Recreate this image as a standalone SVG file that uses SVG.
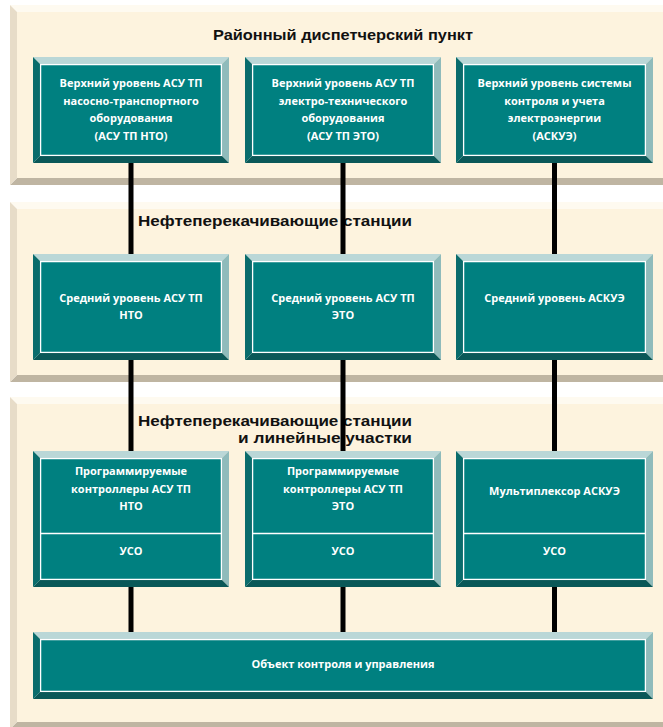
<svg xmlns="http://www.w3.org/2000/svg" width="663" height="727" viewBox="0 0 663 727">
<style>
.pf{fill:#fdf3de}
.pt{fill:#fefaf0}
.pl{fill:#e7dcc8}
.pb{fill:#bfb5a2}
.bt{fill:#bad7d7}
.br{fill:#8fbbbb}
.bb{fill:#0a5858}
.bl{fill:#0a6c6c}
.bf{fill:#008080;stroke:#ffffff;stroke-width:1.3}
.dv{stroke:#ffffff;stroke-width:1.3}
.h{font-family:"Liberation Sans","Open Sans",sans-serif;font-weight:bold;fill:#111111}
.t{font-family:"Open Sans","DejaVu Sans",sans-serif;font-weight:bold;font-size:11px;fill:#ffffff;text-anchor:middle}
.c{stroke:#000000;stroke-width:5;fill:none}
</style>
<rect width="663" height="727" fill="#ffffff"/>

<g id="panel-rdp">
<polygon class="pt" points="10,5 680,5 673,12 17,12"/>
<polygon class="pb" points="10,185 680,185 673,178 17,178"/>
<polygon class="pl" points="10,5 17,12 17,178 10,185"/>
<rect class="pf" x="17" y="12" width="660" height="166"/>
<text class="h" x="343" y="40" font-size="14.5" text-anchor="middle" textLength="260" lengthAdjust="spacingAndGlyphs">Районный диспетчерский пункт</text>
</g>

<g id="panel-nps">
<polygon class="pt" points="10,202 680,202 673,209 17,209"/>
<polygon class="pb" points="10,382 680,382 673,375 17,375"/>
<polygon class="pl" points="10,202 17,209 17,375 10,382"/>
<rect class="pf" x="17" y="209" width="660" height="166"/>
<text class="h" x="138" y="226" font-size="15.5" textLength="274" lengthAdjust="spacingAndGlyphs">Нефтеперекачивающие станции</text>
</g>

<g id="panel-nps-lu">
<polygon class="pt" points="10,397 680,397 673,404 17,404"/>
<polygon class="pb" points="10,729 680,729 673,722 17,722"/>
<polygon class="pl" points="10,397 17,404 17,722 10,729"/>
<rect class="pf" x="17" y="404" width="660" height="318"/>
<text class="h" x="138" y="425.5" font-size="15.5" textLength="274" lengthAdjust="spacingAndGlyphs">Нефтеперекачивающие станции</text>
<text class="h" x="412" y="443" font-size="15.5" text-anchor="end" textLength="174" lengthAdjust="spacingAndGlyphs">и линейные участки</text>
</g>

<g id="node-top-nto">
<polygon class="bt" points="33,57 229,57 222,64 40,64"/>
<polygon class="br" points="229,57 229,163 222,156 222,64"/>
<polygon class="bb" points="33,163 229,163 222,156 40,156"/>
<polygon class="bl" points="33,57 40,64 40,156 33,163"/>
<rect class="bf" x="40.6" y="64.6" width="180.8" height="90.8"/>
<text class="t" x="131" y="87">Верхний уровень АСУ ТП</text>
<text class="t" x="131" y="104.5">насосно-транспортного</text>
<text class="t" x="131" y="122">оборудования</text>
<text class="t" x="131" y="139.5">(АСУ ТП НТО)</text>
</g>

<g id="node-top-eto">
<polygon class="bt" points="245,57 441,57 434,64 252,64"/>
<polygon class="br" points="441,57 441,163 434,156 434,64"/>
<polygon class="bb" points="245,163 441,163 434,156 252,156"/>
<polygon class="bl" points="245,57 252,64 252,156 245,163"/>
<rect class="bf" x="252.6" y="64.6" width="180.8" height="90.8"/>
<text class="t" x="343" y="87">Верхний уровень АСУ ТП</text>
<text class="t" x="343" y="104.5">электро-технического</text>
<text class="t" x="343" y="122">оборудования</text>
<text class="t" x="343" y="139.5">(АСУ ТП ЭТО)</text>
</g>

<g id="node-top-askue">
<polygon class="bt" points="456,57 653,57 646,64 463,64"/>
<polygon class="br" points="653,57 653,163 646,156 646,64"/>
<polygon class="bb" points="456,163 653,163 646,156 463,156"/>
<polygon class="bl" points="456,57 463,64 463,156 456,163"/>
<rect class="bf" x="463.6" y="64.6" width="181.8" height="90.8"/>
<text class="t" x="554.5" y="87">Верхний уровень системы</text>
<text class="t" x="554.5" y="104.5">контроля и учета</text>
<text class="t" x="554.5" y="122">электроэнергии</text>
<text class="t" x="554.5" y="139.5">(АСКУЭ)</text>
</g>

<g id="node-mid-nto">
<polygon class="bt" points="33,254 229,254 222,261 40,261"/>
<polygon class="br" points="229,254 229,360 222,353 222,261"/>
<polygon class="bb" points="33,360 229,360 222,353 40,353"/>
<polygon class="bl" points="33,254 40,261 40,353 33,360"/>
<rect class="bf" x="40.6" y="261.6" width="180.8" height="90.8"/>
<text class="t" x="131" y="302">Средний уровень АСУ ТП</text>
<text class="t" x="131" y="319">НТО</text>
</g>

<g id="node-mid-eto">
<polygon class="bt" points="245,254 441,254 434,261 252,261"/>
<polygon class="br" points="441,254 441,360 434,353 434,261"/>
<polygon class="bb" points="245,360 441,360 434,353 252,353"/>
<polygon class="bl" points="245,254 252,261 252,353 245,360"/>
<rect class="bf" x="252.6" y="261.6" width="180.8" height="90.8"/>
<text class="t" x="343" y="302">Средний уровень АСУ ТП</text>
<text class="t" x="343" y="319">ЭТО</text>
</g>

<g id="node-mid-askue">
<polygon class="bt" points="456,254 653,254 646,261 463,261"/>
<polygon class="br" points="653,254 653,360 646,353 646,261"/>
<polygon class="bb" points="456,360 653,360 646,353 463,353"/>
<polygon class="bl" points="456,254 463,261 463,353 456,360"/>
<rect class="bf" x="463.6" y="261.6" width="181.8" height="90.8"/>
<text class="t" x="554.5" y="302">Средний уровень АСКУЭ</text>
</g>

<g id="node-low-nto">
<polygon class="bt" points="33,451 229,451 222,458 40,458"/>
<polygon class="br" points="229,451 229,587 222,580 222,458"/>
<polygon class="bb" points="33,587 229,587 222,580 40,580"/>
<polygon class="bl" points="33,451 40,458 40,580 33,587"/>
<rect class="bf" x="40.6" y="458.6" width="180.8" height="120.8"/>
<line class="dv" x1="40.6" y1="533.5" x2="221.4" y2="533.5"/>
<text class="t" x="131" y="475">Программируемые</text>
<text class="t" x="131" y="493">контроллеры АСУ ТП</text>
<text class="t" x="131" y="510">НТО</text>
<text class="t" x="131" y="555">УСО</text>
</g>

<g id="node-low-eto">
<polygon class="bt" points="245,451 441,451 434,458 252,458"/>
<polygon class="br" points="441,451 441,587 434,580 434,458"/>
<polygon class="bb" points="245,587 441,587 434,580 252,580"/>
<polygon class="bl" points="245,451 252,458 252,580 245,587"/>
<rect class="bf" x="252.6" y="458.6" width="180.8" height="120.8"/>
<line class="dv" x1="252.6" y1="533.5" x2="433.4" y2="533.5"/>
<text class="t" x="343" y="475">Программируемые</text>
<text class="t" x="343" y="493">контроллеры АСУ ТП</text>
<text class="t" x="343" y="510">ЭТО</text>
<text class="t" x="343" y="555">УСО</text>
</g>

<g id="node-low-askue">
<polygon class="bt" points="456,451 653,451 646,458 463,458"/>
<polygon class="br" points="653,451 653,587 646,580 646,458"/>
<polygon class="bb" points="456,587 653,587 646,580 463,580"/>
<polygon class="bl" points="456,451 463,458 463,580 456,587"/>
<rect class="bf" x="463.6" y="458.6" width="181.8" height="120.8"/>
<line class="dv" x1="463.6" y1="533.5" x2="645.4" y2="533.5"/>
<text class="t" x="554.5" y="495">Мультиплексор АСКУЭ</text>
<text class="t" x="554.5" y="555">УСО</text>
</g>

<g id="node-object">
<polygon class="bt" points="33,632 653,632 646,639 40,639"/>
<polygon class="br" points="653,632 653,699 646,692 646,639"/>
<polygon class="bb" points="33,699 653,699 646,692 40,692"/>
<polygon class="bl" points="33,632 40,639 40,692 33,699"/>
<rect class="bf" x="40.6" y="639.6" width="604.8" height="51.8"/>
<text class="t" x="343" y="668">Объект контроля и управления</text>
</g>

<g id="connectors">
<path class="c" d="M131,163V254M131,360V451M131,587V632"/>
<path class="c" d="M343,163V254M343,360V451M343,587V632"/>
<path class="c" d="M554.5,163V254M554.5,360V451M554.5,587V632"/>
</g>
</svg>
